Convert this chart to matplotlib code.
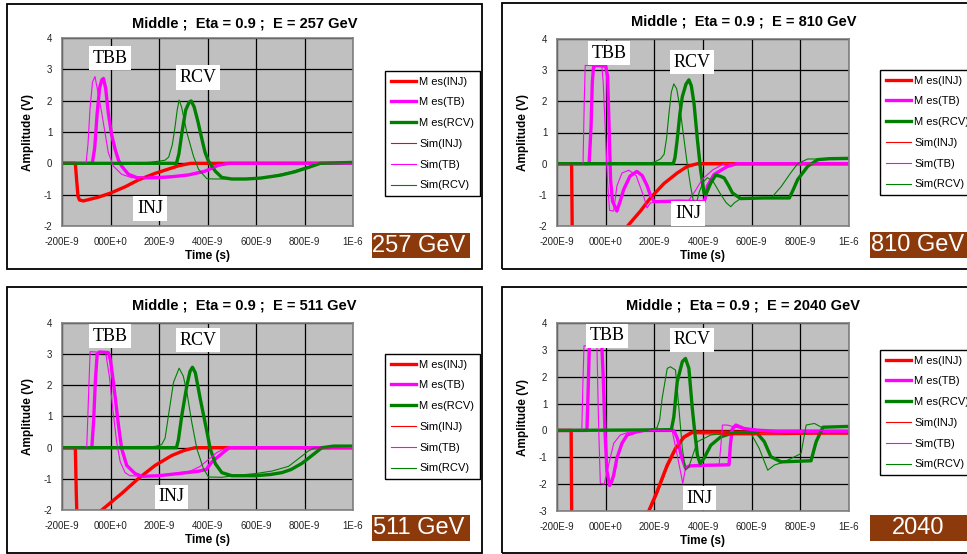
import numpy as np
import matplotlib
matplotlib.use("Agg")
import matplotlib.pyplot as plt
from matplotlib.patches import Rectangle
from matplotlib.lines import Line2D

plt.rcParams['font.family'] = ['Liberation Sans', 'DejaVu Sans']
plt.rcParams['axes.unicode_minus'] = False

W, H = 967, 554

# time axis is in ns, labels as printed by the scope export
TIME_TICKS = [-200, 0, 200, 400, 600, 800, 1000]
TIME_LABELS = ['-200E-9', '000E+0', '200E-9', '400E-9', '600E-9', '800E-9', '1E-6']
SERIES_NAMES = ['M es(INJ)', 'M es(TB)', 'M es(RCV)', 'Sim(INJ)', 'Sim(TB)', 'Sim(RCV)']
SERIES_COLORS = ['#FF0000', '#FF00FF', '#008000', '#FF0000', '#FF00FF', '#008000']
SERIES_WIDTHS = [2.4, 2.4, 2.4, 0.8, 0.8, 0.8]

# ---- E = 257 GeV : (time ns, amplitude V)
mes_inj_257 = [(-200, 0), (-145, 0), (-140, -0.5), (-134, -1.05), (-128, -1.17), (-112, -1.2),
               (-50, -1.08), (0, -0.95), (60, -0.75), (115, -0.53), (184, -0.32), (240, -0.18),
               (280, -0.08), (330, 0), (1000, 0)]
mes_tb_257 = [(-200, 0), (-75, 0), (-65, 0.5), (-55, 1.6), (-45, 2.4), (-36, 2.66), (-29, 2.71),
              (-20, 2.4), (-9, 1.6), (5, 0.9), (19, 0.45), (33, 0.1), (46, -0.09), (74, -0.35),
              (110, -0.46), (184, -0.46), (250, -0.43), (322, -0.37), (390, -0.25), (445, -0.06),
              (490, 0), (1000, 0)]
mes_rcv_257 = [(-200, 0), (272, 0), (282, 0.3), (295, 1.0), (310, 1.7), (325, 1.96), (333, 1.99),
               (345, 1.8), (360, 1.35), (377, 0.77), (390, 0.35), (404, 0.07), (432, -0.25),
               (459, -0.45), (500, -0.5), (560, -0.5), (620, -0.47), (700, -0.38), (760, -0.27),
               (820, -0.12), (865, 0), (1000, 0.03)]
sim_inj_257 = [(-200, 0), (-146, 0), (-141, -0.5), (-135, -1.05), (-129, -1.17), (-113, -1.2),
               (-50, -1.07), (0, -0.95), (60, -0.75), (115, -0.52), (184, -0.31), (240, -0.17),
               (280, -0.07), (325, 0), (1000, 0)]
sim_tb_257 = [(-200, 0), (-101, 0), (-93, 0.6), (-84, 1.8), (-74, 2.6), (-64, 2.77), (-55, 2.4),
              (-36, 1.6), (-9, 0.34), (12, -0.09), (46, -0.35), (88, -0.46), (200, -0.44),
              (300, -0.38), (380, -0.3), (440, -0.1), (470, 0), (1000, 0)]
sim_rcv_257 = [(-200, 0), (110, 0), (160, 0.03), (200, 0.07), (225, 0.1), (240, 0.2), (255, 0.6),
               (265, 1.1), (275, 1.7), (283, 2.02), (293, 1.8), (315, 0.98), (342, 0.23),
               (363, -0.19), (397, -0.49), (430, -0.5), (550, -0.49), (620, -0.46), (680, -0.38),
               (740, -0.28), (800, -0.14), (850, -0.03), (870, 0), (1000, 0.02)]

# ---- E = 810 GeV
mes_inj_810 = [(-200, 0), (-140, 0), (-137, -2.5), (-134, -4.0), (-125, -4.2), (0, -3.1),
               (90, -2.0), (143, -1.52), (184, -1.1), (239, -0.64), (294, -0.3), (335, -0.09),
               (377, 0), (1000, 0)]
mes_tb_810 = [(-200, 0), (-68, 0), (-60, 1.2), (-55, 2.6), (-50, 3.1), (-40, 3.15), (0, 3.13),
              (8, 2.8), (14, 1.2), (20, -0.5), (28, -1.2), (46, -1.52), (60, -1.2), (74, -0.83),
              (100, -0.4), (128, -0.25), (150, -0.38), (170, -0.7), (185, -1.04), (200, -1.22),
              (300, -1.2), (404, -1.22), (410, -1.1), (418, -0.72), (445, -0.35), (500, -0.09),
              (540, 0), (1000, 0)]
mes_rcv_810 = [(-200, 0), (278, 0), (285, 0.2), (294, 0.77), (305, 1.6), (315, 2.15), (330, 2.55),
               (342, 2.69), (352, 2.5), (363, 1.94), (377, 0.77), (390, -0.19), (404, -0.94),
               (411, -1.0), (432, -0.62), (452, -0.37), (470, -0.4), (487, -0.46), (505, -0.7),
               (521, -0.94), (555, -1.12), (650, -1.1), (755, -1.1), (770, -0.85), (789, -0.51),
               (831, -0.08), (872, 0.13), (920, 0.16), (1000, 0.17)]
sim_inj_810 = [(-200, 0), (-141, 0), (-138, -2.5), (-135, -4.0), (-126, -4.2), (0, -3.12),
               (90, -2.02), (143, -1.54), (184, -1.12), (239, -0.66), (294, -0.32), (335, -0.1),
               (380, 0), (1000, 0)]
sim_tb_810 = [(-200, 0), (-93, 0), (-88, 2.0), (-84, 3.15), (-16, 3.15), (-10, 2.6), (0, 0.8),
              (8, -0.6), (16, -1.5), (33, -1.52), (46, -0.72), (67, -0.3), (95, -0.21),
              (125, -0.38), (156, -1.04), (170, -1.42), (184, -1.26), (240, -1.2), (340, -1.2),
              (370, -0.85), (397, -0.5), (440, -0.2), (487, 0), (1000, 0)]
sim_rcv_810 = [(-200, 0), (160, 0), (200, 0.05), (225, 0.15), (240, 0.3), (250, 0.8), (260, 1.6),
               (270, 2.3), (280, 2.56), (292, 2.4), (305, 1.8), (320, 0.9), (335, 0), (349, -0.72),
               (363, -1.31), (372, -1.3), (385, -0.9), (400, -0.6), (418, -0.45), (440, -0.55),
               (470, -0.95), (495, -1.25), (514, -1.38), (530, -1.25), (555, -1.12), (680, -1.1),
               (720, -0.75), (760, -0.3), (789, 0), (830, 0.15), (1000, 0.15)]

# ---- E = 511 GeV
mes_inj_511 = [(-200, 0), (-145, 0), (-141, -1.5), (-137, -2.55), (-128, -2.62), (-36, -2.0),
               (46, -1.47), (115, -0.99), (184, -0.57), (253, -0.25), (300, -0.1), (322, -0.05),
               (350, 0), (1000, 0)]
mes_tb_511 = [(-200, 0), (-77, 0), (-70, 0.8), (-62, 2.2), (-55, 3.0), (-45, 3.07), (-9, 3.05),
              (0, 2.8), (12, 2.1), (33, 0.71), (46, -0.03), (67, -0.57), (101, -0.83),
              (129, -0.92), (200, -0.9), (280, -0.83), (360, -0.76), (395, -0.7), (418, -0.46),
              (459, -0.19), (490, 0), (1000, 0)]
mes_rcv_511 = [(-200, 0), (272, 0), (280, 0.25), (294, 1.03), (315, 2.0), (328, 2.45), (338, 2.58),
               (350, 2.4), (370, 1.57), (398, 0.5), (411, -0.03), (432, -0.51), (459, -0.8),
               (500, -0.9), (597, -0.9), (660, -0.86), (707, -0.8), (745, -0.7), (790, -0.5),
               (831, -0.25), (872, 0), (920, 0.05), (1000, 0.05)]
sim_inj_511 = [(-200, 0), (-146, 0), (-142, -1.5), (-138, -2.55), (-129, -2.62), (-36, -2.02),
               (46, -1.49), (115, -1.0), (184, -0.58), (253, -0.26), (300, -0.1), (322, -0.05),
               (352, 0), (1000, 0)]
sim_tb_511 = [(-200, 0), (-98, 0), (-90, 1.8), (-84, 3.08), (-20, 3.05), (-5, 2.3), (10, 1.2),
              (25, 0.2), (40, -0.45), (60, -0.8), (80, -0.9), (150, -0.92), (250, -0.85),
              (330, -0.75), (370, -0.6), (404, -0.38), (440, -0.15), (480, 0), (1000, 0)]
sim_rcv_511 = [(-200, 0), (150, 0), (190, 0.05), (211, 0.1), (225, 0.3), (239, 1.03), (260, 2.1),
               (283, 2.55), (300, 2.3), (315, 1.78), (335, 0.82), (356, -0.03), (383, -0.67),
               (404, -0.94), (459, -0.95), (530, -0.88), (600, -0.83), (666, -0.75), (734, -0.6),
               (776, -0.35), (817, -0.1), (844, 0), (1000, 0.04)]

# ---- E = 2040 GeV
mes_inj_2040 = [(-200, 0), (-142, 0), (-139, -4.0), (-135, -7.5), (-120, -7.8), (0, -6.6),
                (100, -4.7), (177, -3.0), (211, -2.28), (253, -1.29), (287, -0.67), (322, -0.24),
                (356, -0.06), (600, -0.06), (1000, -0.1)]
mes_tb_2040 = [(-200, 0), (-77, 0), (-72, 1.5), (-67, 3.15), (-40, 3.2), (-16, 3.18), (-10, 2.0),
               (-3, 0), (5, -1.5), (16, -2.05), (25, -1.9), (33, -1.66), (46, -1.04), (67, -0.48),
               (88, -0.17), (129, -0.05), (160, 0), (280, 0), (295, -0.3), (312, -1.0),
               (328, -1.4), (345, -1.32), (400, -1.3), (507, -1.28), (512, -0.6), (520, 0.05),
               (535, 0.2), (569, 0.07), (624, 0.01), (700, -0.03), (1000, -0.03)]
mes_rcv_2040 = [(-200, 0), (200, 0.02), (270, 0.03), (280, 0.5), (294, 1.81), (315, 2.56),
                (328, 2.68), (342, 2.31), (356, 0.82), (366, -0.05), (377, -0.92), (388, -1.23),
                (404, -1.04), (432, -0.55), (473, -0.24), (514, -0.12), (624, -0.12), (652, -0.42),
                (679, -0.98), (721, -1.17), (844, -1.13), (865, -0.42), (893, 0.12), (1000, 0.15)]
sim_inj_2040 = [(-200, -0.03), (-140, -0.03), (-137, -4.0), (-133, -7.5), (-120, -7.9), (0, -6.7),
                (100, -4.8), (177, -3.1), (211, -2.4), (253, -1.4), (287, -0.75), (322, -0.3),
                (356, -0.12), (500, -0.15), (700, -0.16), (1000, -0.12)]
sim_tb_2040 = [(-200, 0), (-98, 0), (-94, 1.6), (-89, 3.15), (-36, 3.15), (-29, 0.2), (-22, -1.97),
               (-6, -2.0), (12, -1.29), (33, -0.48), (60, -0.17), (101, -0.05), (140, 0),
               (273, 0), (294, -0.92), (317, -1.97), (328, -1.41), (342, -1.35), (400, -1.3),
               (466, -1.3), (474, -0.5), (480, 0.2), (500, 0.2), (542, 0.1), (600, 0.05),
               (650, 0), (1000, 0)]
sim_rcv_2040 = [(-200, 0), (170, 0), (211, 0.1), (222, 0.4), (232, 1.19), (253, 2.31), (266, 2.37),
                (287, 2.25), (301, 0.82), (315, -0.67), (328, -1.48), (342, -1.35), (377, -0.42),
                (432, -0.17), (487, -0.11), (597, -0.11), (631, -0.67), (666, -1.48), (693, -1.29),
                (734, -1.17), (803, -0.86), (824, 0.2), (858, 0.26), (886, 0.12), (1000, 0.12)]

# layout of the four sub-charts, in pixels of the 967x554 canvas
PANELS = [
    dict(energy='257', tag='257 GeV', ymin=-2, frame=(7, 4, 482, 269), plot=(62, 38, 353, 226),
         legend=(385, 71), tag_box=(372, 233, 470, 258),
         series=[mes_inj_257, mes_tb_257, mes_rcv_257, sim_inj_257, sim_tb_257, sim_rcv_257],
         notes=[('TBB', -2, 3.36), ('RCV', 361, 2.74), ('INJ', 163, -1.44)]),
    dict(energy='810', tag='810 GeV', ymin=-2, frame=(502, 3, 985, 269), plot=(557, 39, 849, 226),
         legend=(880, 70), tag_box=(870, 232, 970, 258),
         series=[mes_inj_810, mes_tb_810, mes_rcv_810, sim_inj_810, sim_tb_810, sim_rcv_810],
         notes=[('TBB', 14, 3.55), ('RCV', 355, 3.26), ('INJ', 338, -1.6)]),
    dict(energy='511', tag='511 GeV', ymin=-2, frame=(7, 287, 482, 553), plot=(62, 323, 353, 510),
         legend=(385, 354), tag_box=(372, 515, 470, 541),
         series=[mes_inj_511, mes_tb_511, mes_rcv_511, sim_inj_511, sim_tb_511, sim_rcv_511],
         notes=[('TBB', -2, 3.58), ('RCV', 361, 3.45), ('INJ', 253, -1.58)]),
    dict(energy='2040', tag='2040', ymin=-3, frame=(502, 287, 985, 553), plot=(557, 323, 849, 511),
         legend=(880, 350), tag_box=(870, 515, 970, 541),
         series=[mes_inj_2040, mes_tb_2040, mes_rcv_2040, sim_inj_2040, sim_tb_2040, sim_rcv_2040],
         notes=[('TBB', 5, 3.52), ('RCV', 355, 3.37), ('INJ', 386, -2.52)]),
]


def fig_box(l, t, r, b):
    return [l / W, 1 - b / H, (r - l) / W, (b - t) / H]


fig = plt.figure(figsize=(W / 100, H / 100), dpi=100)

for p in PANELS:
    l, t, r, b = p['frame']
    fig.patches.append(Rectangle((l / W, 1 - b / H), (r - l) / W, (b - t) / H, fill=False,
                                 edgecolor='black', linewidth=1.3, transform=fig.transFigure))
    fig.text((l + r) / 2 / W, 1 - (t + 19) / H,
             'Middle ;  Eta = 0.9 ;  E = {} GeV'.format(p['energy']),
             ha='center', va='center', fontsize=10.5, fontweight='bold')

    pl, pt, pr, pb = p['plot']
    ax = fig.add_axes(fig_box(*p['plot']))
    ax.set_facecolor('#C0C0C0')
    for pts, c, lw in zip(p['series'], SERIES_COLORS, SERIES_WIDTHS):
        arr = np.array(pts, dtype=float)
        ax.plot(arr[:, 0], arr[:, 1], color=c, linewidth=lw, solid_joinstyle='round')

    ax.set_xlim(-200, 1000)
    ax.set_ylim(p['ymin'], 4)
    ax.set_xticks(TIME_TICKS)
    ax.set_xticklabels(TIME_LABELS)
    ax.set_yticks(range(p['ymin'], 5))
    ax.grid(True, color='black', linewidth=0.9)
    ax.set_axisbelow(True)
    ax.tick_params(axis='both', length=0, labelsize=7, colors='#222222')
    ax.tick_params(axis='x', pad=8)
    ax.tick_params(axis='y', pad=7)
    for s in ax.spines.values():
        s.set_color('#808080')
        s.set_linewidth(1.2)

    for txt, x, y in p['notes']:
        ax.text(x, y, txt, family='Liberation Serif', fontsize=13, ha='center', va='center',
                zorder=10, bbox=dict(boxstyle='square,pad=0.2', fc='white', ec='none'))

    fig.text((pl - 34) / W, 1 - (pt + pb) / 2 / H, 'Amplitude (V)', rotation=90,
             ha='center', va='center', fontsize=8.5, fontweight='bold')
    fig.text((pl + pr) / 2 / W, 1 - (pb + 30) / H, 'Time (s)',
             ha='center', va='center', fontsize=8.5, fontweight='bold')

    handles = [Line2D([], [], color=c, linewidth=lw) for c, lw in zip(SERIES_COLORS, SERIES_WIDTHS)]
    lx, ly = p['legend']
    leg = ax.legend(handles, SERIES_NAMES, loc='upper left', bbox_to_anchor=(lx / W, 1 - ly / H),
                    bbox_transform=fig.transFigure, fontsize=8, handlelength=2.3,
                    handletextpad=0.3, labelspacing=0.97, borderpad=0.5, borderaxespad=0,
                    fancybox=False, edgecolor='black', framealpha=1)
    leg.get_frame().set_linewidth(1.0)

    tl, tt, tr, tb = p['tag_box']
    fig.patches.append(Rectangle((tl / W, 1 - tb / H), (tr - tl) / W, (tb - tt) / H,
                                 facecolor='#8C3A0C', edgecolor='none', transform=fig.transFigure))
    fig.text(((tl + tr) / 2 - 2) / W, 1 - (tt + tb) / 2 / H, p['tag'], color='white',
             ha='center', va='center', fontsize=17)

fig.savefig('out.png', dpi=100)
